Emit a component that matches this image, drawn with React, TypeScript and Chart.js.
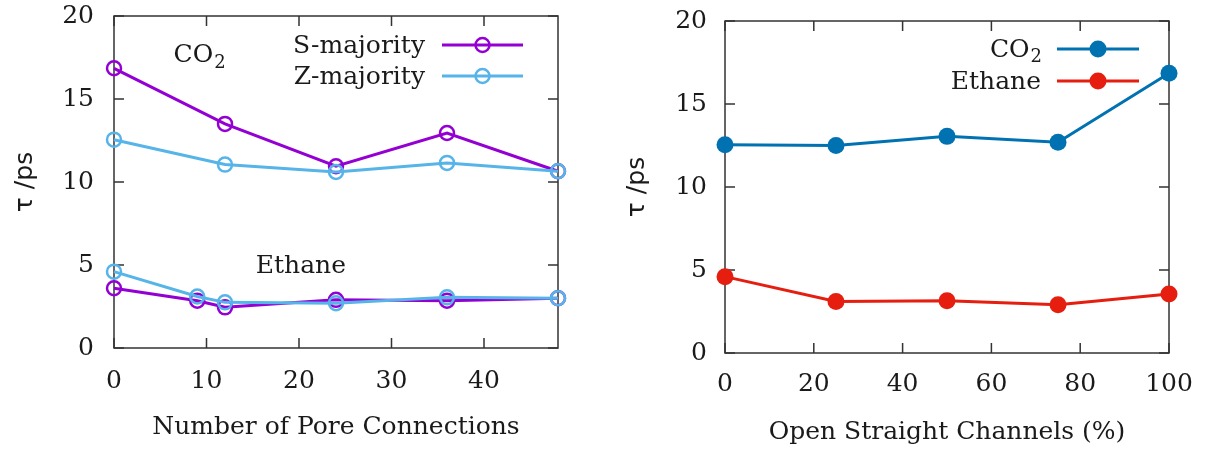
import React, { useEffect, useRef } from "react";
import { Chart, registerables } from "chart.js";
Chart.register(...registerables);

// ---- Data (left panel) ----
const LEFT_CO2_X = [0, 12, 24, 36, 48];
const LEFT_ETH_X = [0, 9, 12, 24, 36, 48];
const S_CO2 = [16.85, 13.5, 10.95, 12.95, 10.65];
const Z_CO2 = [12.55, 11.05, 10.6, 11.15, 10.65];
const S_ETH = [3.6, 2.85, 2.45, 2.9, 2.85, 3.0];
const Z_ETH = [4.6, 3.1, 2.75, 2.7, 3.05, 3.0];
const LEFT_X_TICKS = [0, 10, 20, 30, 40];
// ---- Data (right panel) ----
const RIGHT_X = [0, 25, 50, 75, 100];
const R_CO2 = [12.55, 12.5, 13.05, 12.7, 16.85];
const R_ETH = [4.6, 3.1, 3.15, 2.9, 3.55];
const RIGHT_X_TICKS = [0, 20, 40, 60, 80, 100];
const Y_TICKS = [0, 5, 10, 15, 20];

const LEFT_SERIES = ["S-majority", "Z-majority"];
const RIGHT_SERIES = ["CO2", "Ethane"];

const PURPLE = "#9400D3";
const LIGHTBLUE = "#56B4E9";
const BLUE = "#0072B2";
const RED = "#E51E10";
const TEXT = "#1a1a1a";
const FRAME = "#333333";
const SERIF = "'DejaVu Serif', serif";
const SANS = "'DejaVu Sans', sans-serif";
const FS = 25;

function drawLabel(ctx: CanvasRenderingContext2D, base: string, sub: string, x: number, y: number, align: string, size: number) {
  ctx.font = `${size}px ${SERIF}`;
  const wBase = ctx.measureText(base).width;
  const subSize = Math.round(size * 0.72);
  ctx.font = `${subSize}px ${SERIF}`;
  const wSub = sub ? ctx.measureText(sub).width : 0;
  const total = wBase + wSub;
  const start = align === "right" ? x - total : align === "center" ? x - total / 2 : x;
  ctx.fillStyle = TEXT;
  ctx.textAlign = "left";
  ctx.textBaseline = "middle";
  ctx.font = `${size}px ${SERIF}`;
  ctx.fillText(base, start, y);
  if (sub) {
    ctx.font = `${subSize}px ${SERIF}`;
    ctx.fillText(sub, start + wBase + 1, y + size * 0.3);
  }
}

type LegendItem = { base: string; sub: string; color: string; filled: boolean; radius: number };
type Annot = { x: number; y: number; base: string; sub: string };
type GnuCfg = {
  legend: LegendItem[];
  textRightOff: number; lineLOff: number; lineROff: number; rowOffs: number[];
  annots: Annot[];
};

function makePlugin(cfg: GnuCfg) {
  return {
    id: "gnu",
    beforeDatasetsDraw(chart: any) {
      const { ctx, chartArea: a, scales } = chart;
      ctx.save();
      ctx.strokeStyle = FRAME;
      ctx.lineWidth = 1.5;
      ctx.strokeRect(a.left, a.top, a.right - a.left, a.bottom - a.top);
      const tl = 10;
      ctx.beginPath();
      scales.x.ticks.forEach((t: any) => {
        const px = scales.x.getPixelForValue(t.value);
        ctx.moveTo(px, a.bottom); ctx.lineTo(px, a.bottom - tl);
        ctx.moveTo(px, a.top); ctx.lineTo(px, a.top + tl);
      });
      scales.y.ticks.forEach((t: any) => {
        const py = scales.y.getPixelForValue(t.value);
        ctx.moveTo(a.left, py); ctx.lineTo(a.left + tl, py);
        ctx.moveTo(a.right, py); ctx.lineTo(a.right - tl, py);
      });
      ctx.stroke();
      ctx.restore();
    },
    afterDraw(chart: any) {
      const { ctx, chartArea: a, scales } = chart;
      ctx.save();
      cfg.legend.forEach((it, i) => {
        const y = a.top + cfg.rowOffs[i];
        drawLabel(ctx, it.base, it.sub, a.right - cfg.textRightOff, y + 1, "right", FS);
        const l = a.right - cfg.lineLOff, r = a.right - cfg.lineROff;
        ctx.strokeStyle = it.color;
        ctx.lineWidth = 3;
        ctx.beginPath(); ctx.moveTo(l, y); ctx.lineTo(r, y); ctx.stroke();
        ctx.beginPath(); ctx.arc((l + r) / 2, y, it.radius, 0, Math.PI * 2);
        if (it.filled) { ctx.fillStyle = it.color; ctx.fill(); }
        else { ctx.lineWidth = 2.5; ctx.stroke(); }
      });
      cfg.annots.forEach((an) => {
        const px = scales.x.getPixelForValue(an.x);
        const py = scales.y.getPixelForValue(an.y);
        drawLabel(ctx, an.base, an.sub, px, py, "center", FS);
      });
      ctx.restore();
    },
  };
}

function pts(xs: number[], ys: number[]) {
  return xs.map((x, i) => ({ x, y: ys[i] }));
}

function lineDs(label: string, data: any[], color: string, filled: boolean, order: number) {
  return {
    label, data, order, clip: false,
    borderColor: color, borderWidth: 3,
    pointStyle: "circle",
    pointRadius: filled ? 8.5 : 7,
    pointBorderWidth: filled ? 0 : 2.5,
    pointBorderColor: color,
    pointBackgroundColor: filled ? color : "rgba(0,0,0,0)",
    tension: 0,
  };
}

function buildOptions(p: any) {
  return {
    responsive: false,
    animation: false,
    events: [],
    layout: { padding: { left: 0, top: p.top, right: p.right, bottom: 0 } },
    plugins: { legend: { display: false }, tooltip: { enabled: false } },
    scales: {
      x: {
        type: "linear", min: p.xmin, max: p.xmax,
        afterBuildTicks: (s: any) => { s.ticks = p.xticks.map((v: number) => ({ value: v })); },
        afterFit: (s: any) => { s.height = p.xh; s.paddingLeft = 0; s.paddingRight = 0; },
        grid: { display: false, drawTicks: false },
        border: { display: false },
        ticks: { font: { family: SERIF, size: FS }, color: TEXT, padding: p.xpad, maxRotation: 0, autoSkip: false },
        title: { display: true, text: p.xtitle, font: { family: SERIF, size: FS }, color: TEXT, padding: { top: 0, bottom: p.xtpad } },
      },
      y: {
        type: "linear", min: 0, max: 20,
        afterBuildTicks: (s: any) => { s.ticks = Y_TICKS.map((v) => ({ value: v })); },
        afterFit: (s: any) => { s.width = p.yw; s.paddingTop = 0; s.paddingBottom = 0; },
        grid: { display: false, drawTicks: false },
        border: { display: false },
        ticks: { font: { family: SERIF, size: FS }, color: TEXT, padding: p.ypad },
        title: { display: true, text: "τ /ps", font: { family: SANS, size: FS }, color: TEXT, padding: { top: p.ytpad, bottom: 0 } },
      },
    },
  };
}

function LeftChart() {
  const ref = useRef<HTMLCanvasElement>(null);
  useEffect(() => {
    const plugin = makePlugin({
      legend: [
        { base: LEFT_SERIES[0], sub: "", color: PURPLE, filled: false, radius: 7 },
        { base: LEFT_SERIES[1], sub: "", color: LIGHTBLUE, filled: false, radius: 7 },
      ],
      textRightOff: 133, lineLOff: 116, lineROff: 35, rowOffs: [29, 60],
      annots: [
        { x: 9.2, y: 17.6, base: "CO", sub: "2" },
        { x: 20.2, y: 4.9, base: "Ethane", sub: "" },
      ],
    });
    const chart = new Chart(ref.current!, {
      type: "line",
      data: {
        datasets: [
          lineDs(LEFT_SERIES[1], pts(LEFT_CO2_X, Z_CO2), LIGHTBLUE, false, 0),
          lineDs(LEFT_SERIES[1], pts(LEFT_ETH_X, Z_ETH), LIGHTBLUE, false, 1),
          lineDs(LEFT_SERIES[0], pts(LEFT_CO2_X, S_CO2), PURPLE, false, 2),
          lineDs(LEFT_SERIES[0], pts(LEFT_ETH_X, S_ETH), PURPLE, false, 3),
        ] as any,
      },
      options: buildOptions({
        top: 16, right: 42, xmin: 0, xmax: 48, xticks: LEFT_X_TICKS, xh: 102, xpad: 18, xtpad: 8,
        xtitle: "Number of Pore Connections", yw: 114, ypad: 20, ytpad: 10,
      }) as any,
      plugins: [plugin],
    });
    return () => chart.destroy();
  }, []);
  return <canvas ref={ref} width={600} height={450} style={{ position: "absolute", left: 0, top: 0 }} />;
}

function RightChart() {
  const ref = useRef<HTMLCanvasElement>(null);
  useEffect(() => {
    const plugin = makePlugin({
      legend: [
        { base: "CO", sub: "2", color: BLUE, filled: true, radius: 8.5 },
        { base: RIGHT_SERIES[1], sub: "", color: RED, filled: true, radius: 8.5 },
      ],
      textRightOff: 128, lineLOff: 112, lineROff: 30, rowOffs: [28, 60],
      annots: [],
    });
    const chart = new Chart(ref.current!, {
      type: "line",
      data: {
        datasets: [
          lineDs(RIGHT_SERIES[0], pts(RIGHT_X, R_CO2), BLUE, true, 0),
          lineDs(RIGHT_SERIES[1], pts(RIGHT_X, R_ETH), RED, true, 1),
        ] as any,
      },
      options: buildOptions({
        top: 21, right: 36, xmin: 0, xmax: 100, xticks: RIGHT_X_TICKS, xh: 97, xpad: 16, xtpad: 3,
        xtitle: "Open Straight Channels (%)", yw: 125, ypad: 18, ytpad: 22,
      }) as any,
      plugins: [plugin],
    });
    return () => chart.destroy();
  }, []);
  return <canvas ref={ref} width={605} height={450} style={{ position: "absolute", left: 600, top: 0 }} />;
}

export default function App() {
  return (
    <div style={{ position: "absolute", left: 0, top: 0, width: 1205, height: 450, background: "#fff" }}>
      <LeftChart />
      <RightChart />
    </div>
  );
}
